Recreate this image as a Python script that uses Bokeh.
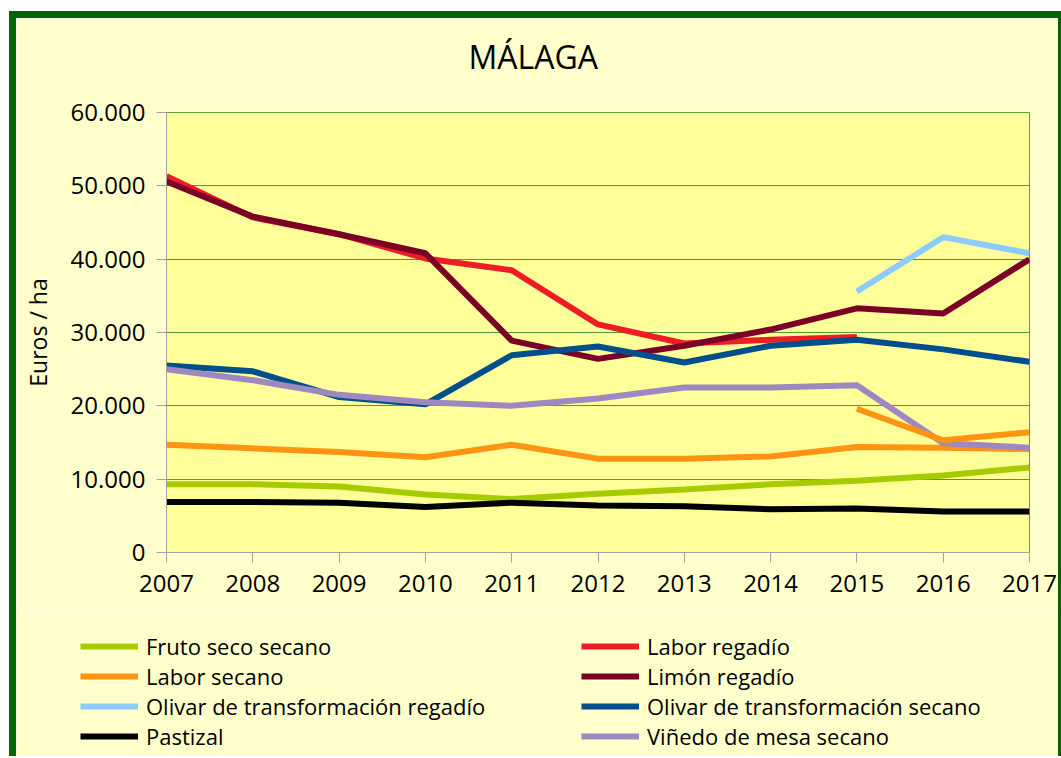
from bokeh.plotting import figure
from bokeh.layouts import column
from bokeh.models import FixedTicker, Legend, LegendItem, LinearAxis
from bokeh.embed import file_html
from bokeh.resources import INLINE

NaN = float("nan")

title_text = "MÁLAGA"
years = [2007, 2008, 2009, 2010, 2011, 2012, 2013, 2014, 2015, 2016, 2017]
y_ticks = [0, 10000, 20000, 30000, 40000, 50000, 60000]
y_tick_labels = ["0", "10.000", "20.000", "30.000", "40.000", "50.000", "60.000"]

fruto_seco_secano = [9300, 9300, 9000, 7900, 7300, 8000, 8600, 9300, 9800, 10500, 11600]
labor_regadio = [51300, 45700, 43400, 40100, 38500, 31100, 28500, 29000, 29400, NaN, NaN]
labor_secano = [14700, 14200, 13700, 13000, 14700, 12800, 12800, 13100, 14400, 14300, 14100]
limon_regadio = [50600, 45800, 43400, 40800, 28900, 26400, 28200, 30400, 33300, 32600, 40000]
olivar_transf_regadio = [NaN, NaN, NaN, NaN, NaN, NaN, NaN, NaN, 35600, 43000, 40800]
olivar_transf_secano = [25500, 24700, 21200, 20200, 26900, 28100, 25900, 28200, 29000, 27700, 26000]
pastizal = [6900, 6900, 6800, 6200, 6800, 6400, 6300, 5900, 6000, 5600, 5600]
vinedo_mesa_secano = [25000, 23500, 21500, 20500, 20000, 21000, 22500, 22500, 22800, 14900, 14300]
extra_series = [NaN, NaN, NaN, NaN, NaN, NaN, NaN, NaN, 19600, 15300, 16400]

series = [
    ("Fruto seco secano", fruto_seco_secano, "#A6CC00"),
    ("Labor regadío", labor_regadio, "#EE1C25"),
    ("Labor secano", labor_secano, "#FF9412"),
    ("Limón regadío", limon_regadio, "#7A0026"),
    ("Olivar de transformación regadío", olivar_transf_regadio, "#8CCBFF"),
    ("Olivar de transformación secano", olivar_transf_secano, "#004F8B"),
    ("Pastizal", pastizal, "#000000"),
    ("Viñedo de mesa secano", vinedo_mesa_secano, "#9E88C2"),
]

FONT = "Open Sans"
BG = "#FFFFCC"
BORDER = "7px solid #006600"
LW = 6
TITLE_POS = 2011.25  # horizontal centre of the title, in axis units

p = figure(
    width=1052, height=601,
    x_range=(2007, 2017), y_range=(0, 60000),
    output_backend="svg", toolbar_location=None,
    min_border_left=150, min_border_right=39, min_border_top=94, min_border_bottom=67,
    background_fill_color="#FFFF99", border_fill_color=BG,
    styles={
        "border-left": BORDER,
        "border-top": BORDER,
        "border-right": "3px solid #006600",
    },
)
p.frame_align = False
p.title.visible = False

xax = p.below[0]
yax = p.left[0]

# title drawn as the single label of an otherwise invisible top axis
title_axis = LinearAxis(
    ticker=FixedTicker(ticks=[TITLE_POS]),
    major_label_overrides={TITLE_POS: title_text},
    axis_line_color=None,
    major_tick_line_color=None,
    minor_tick_line_color=None,
    major_tick_in=0,
    major_tick_out=0,
    major_label_standoff=35,
    major_label_text_font=FONT,
    major_label_text_font_size="32px",
    major_label_text_color="#000000",
)
p.add_layout(title_axis, "above")

p.outline_line_color = "#5E9E3C"
p.outline_line_width = 1

p.xgrid.grid_line_color = None
p.ygrid.grid_line_color = "#4E9A36"
p.ygrid.grid_line_width = 1

xax.ticker = FixedTicker(ticks=years)
xax.major_label_overrides = {y: str(y) for y in years}
yax.ticker = FixedTicker(ticks=y_ticks)
yax.major_label_overrides = dict(zip(y_ticks, y_tick_labels))

for ax in (xax, yax):
    ax.axis_line_color = "#A0A0A0"
    ax.major_tick_line_color = "#A0A0A0"
    ax.major_tick_in = 0
    ax.major_tick_out = 10
    ax.minor_tick_line_color = None
    ax.major_label_text_font = FONT
    ax.major_label_text_font_size = "24px"
    ax.major_label_text_color = "#000000"
xax.major_label_standoff = 12
yax.major_label_standoff = 11

yax.axis_label = "Euros / ha"
yax.axis_label_text_font = FONT
yax.axis_label_text_font_size = "23px"
yax.axis_label_text_font_style = "normal"
yax.axis_label_text_color = "#000000"
yax.axis_label_standoff = 14

for name, vals, color in series:
    p.line(years, vals, line_color=color, line_width=LW)
p.line(years, extra_series, line_color="#FF9412", line_width=LW)

# legend panel below the chart
lf = figure(
    width=1052, height=144,
    x_range=(0, 1), y_range=(0, 1),
    output_backend="svg", toolbar_location=None,
    x_axis_location=None, y_axis_location=None,
    min_border=0, min_border_left=0, min_border_right=0, min_border_top=0, min_border_bottom=0,
    background_fill_color=BG, border_fill_color=BG, outline_line_color=None,
    styles={
        "border-left": BORDER,
        "border-right": "3px solid #006600",
    },
)
lf.frame_align = False
lf.xgrid.grid_line_color = None
lf.ygrid.grid_line_color = None

swatches = {}
for name, vals, color in series:
    swatches[name] = lf.line([0, 1], [NaN, NaN], line_color=color, line_width=LW)

names = [s[0] for s in series]
left_names = [names[0], names[2], names[4], names[6]]
right_names = [names[1], names[3], names[5], names[7]]


def make_legend(nm, loc):
    return Legend(
        items=[LegendItem(label=n, renderers=[swatches[n]]) for n in nm],
        location=loc,
        orientation="vertical",
        background_fill_alpha=0,
        border_line_alpha=0,
        label_text_font=FONT,
        label_text_font_size="22px",
        label_text_color="#000000",
        glyph_width=58,
        glyph_height=30,
        label_height=30,
        label_standoff=8,
        spacing=0,
        padding=0,
        margin=0,
    )


lf.add_layout(make_legend(left_names, (64, 5)), "center")
lf.add_layout(make_legend(right_names, (565, 5)), "center")

layout = column(p, lf, spacing=0, styles={"margin-left": "9px", "margin-top": "11px"})

open("out.html", "w").write(file_html(layout, INLINE))
